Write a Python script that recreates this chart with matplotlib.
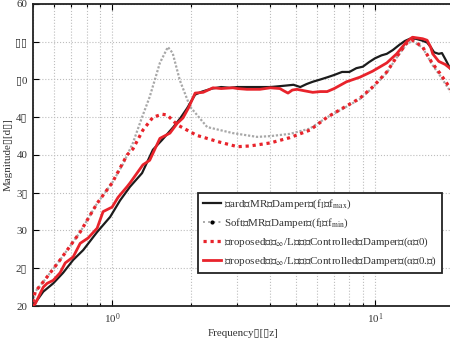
import numpy as np
import matplotlib
matplotlib.use("Agg")
import matplotlib.pyplot as plt
from matplotlib.lines import Line2D
from matplotlib.ticker import FixedLocator, NullFormatter

plt.rcParams['font.family'] = ['Liberation Serif', 'DejaVu Sans']
plt.rcParams['mathtext.fontset'] = 'stix'
plt.rcParams['font.size'] = 7.9

B = '\u25AF'  # missing-glyph box as it appears in the reference

# hard MR damper
f_hard = [0.5, 0.547, 0.597, 0.651, 0.711, 0.776, 0.877, 0.983, 1.073, 1.17, 1.30,
          1.43, 1.55, 1.71, 1.82, 1.93, 2.07, 2.2, 2.4, 2.6, 2.8, 3.0, 3.3, 3.6, 4.0,
          4.3, 4.6, 4.9, 5.2, 5.5, 5.8, 6.2, 6.6, 7.0, 7.5, 8.0, 8.5, 9.0, 9.5, 10.0,
          10.6, 11.1, 11.7, 12.4, 13.0, 13.6, 14.3, 15.0, 15.8, 16.3, 16.8, 17.5,
          18.0, 18.6, 19.3, 20.0]
m_hard = [20.0, 21.9, 23.0, 24.4, 26.1, 27.4, 29.8, 31.8, 34.0, 35.8, 37.6,
          40.7, 42.0, 43.7, 44.9, 46.2, 48.0, 48.4, 48.8, 49.0, 48.9, 49.0, 49.0, 49.0, 49.0,
          49.1, 49.2, 49.3, 49.0, 49.4, 49.7, 50.0, 50.3, 50.6, 51.0, 51.0, 51.5, 51.7, 52.3, 52.8,
          53.2, 53.4, 53.9, 54.6, 55.1, 55.4, 55.4, 55.2, 54.9, 54.3, 53.6, 53.4,
          53.5, 52.6, 51.5, 51.0]

# soft MR damper
f_soft = [0.5, 0.51, 0.55, 0.634, 0.756, 0.877, 1.0, 1.1, 1.2, 1.3, 1.39, 1.52, 1.63,
          1.7, 1.81, 1.98, 2.3, 2.88, 3.56, 4.0, 4.75, 5.66, 6.58, 7.8, 8.76, 9.8,
          11.1, 12.1, 13.2, 13.9, 15.2, 16.5, 17.7, 19.3, 20.0]
m_soft = [20.5, 21.9, 23.3, 26.1, 29.8, 33.6, 36.3, 38.8, 41.6, 45.0, 47.7, 52.2, 54.3,
          53.5, 49.9, 46.4, 43.7, 42.9, 42.4, 42.5, 42.8, 43.5, 45.0, 46.4, 47.4, 48.9,
          50.9, 52.9, 54.7, 55.1, 54.2, 52.0, 50.5, 48.5, 47.8]

# proposed, alpha = 0
f_a0 = [0.5, 0.51, 0.55, 0.634, 0.756, 0.877, 1.0, 1.14, 1.2, 1.31, 1.43, 1.55, 1.62,
        1.77, 2.1, 2.57, 3.0, 3.35, 4.0, 4.75, 5.66, 6.58, 7.8, 8.76, 9.8, 11.1,
        12.1, 13.2, 13.9, 15.2, 16.5, 17.7, 19.3, 20.0]
m_a0 = [20.5, 21.9, 23.3, 26.1, 29.8, 33.6, 36.3, 40.0, 40.8, 43.3, 45.0, 45.4, 45.3,
        44.0, 42.6, 41.7, 41.1, 41.2, 41.6, 42.3, 43.3, 45.0, 46.5, 47.5, 49.0, 51.0,
        53.0, 54.8, 55.2, 54.3, 52.2, 50.8, 48.9, 48.0]

# proposed, alpha = 0.5
f_a5 = [0.5, 0.51, 0.547, 0.566, 0.597, 0.634, 0.663, 0.711, 0.756, 0.81, 0.877, 0.924,
        1.0, 1.054, 1.14, 1.17, 1.31, 1.39, 1.46, 1.52, 1.66, 1.77, 1.86, 1.95, 2.07,
        2.22, 2.42, 2.6, 2.88, 3.0, 3.26, 3.65, 4.0, 4.35, 4.5, 4.67, 4.85, 5.05, 5.4,
        5.8, 6.2, 6.58, 7.0, 7.8, 8.76, 9.8, 11.1, 12.1, 13.2, 13.9, 15.2, 15.8, 16.3,
        16.6, 17.5, 18.5, 19.3, 20.0]
m_a5 = [20.0, 20.3, 22.5, 23.0, 23.4, 24.4, 25.7, 26.5, 28.3, 29.0, 30.3, 32.5,
        33.1, 34.4, 35.8, 36.3, 38.7, 39.3, 40.9, 42.2, 42.9, 44.2, 44.9, 46.2, 48.2,
        48.3, 48.9, 48.8, 48.9, 48.8, 48.7, 48.7, 48.9, 48.8, 48.5, 48.2, 48.6, 48.7, 48.5,
        48.3, 48.4, 48.4, 48.8, 49.7, 50.3, 51.1, 52.2, 53.4, 55.0, 55.6, 55.4, 55.2, 54.3,
        53.4, 52.4, 52.0, 51.5, 51.0]

yticks = [20, 25, 30, 35, 40, 45, 50, 55, 60]
ylabels = ['20', '2' + B, '30', '3' + B, '40', '4' + B, B + '0', B + B, '60']

labels = [
    B + 'ard' + B + 'MR' + B + 'Damper' + B + '(f$_{\\rm I}$' + B + 'f$_{\\rm max}$)',
    'Soft' + B + 'MR' + B + 'Damper' + B + '(f$_{\\rm I}$' + B + 'f$_{\\rm min}$)',
    B + 'roposed' + B + B + '$_\\infty$/L' + B + B + B + 'Controlled' + B + 'Damper' + B + '(\u03b1' + B + '0)',
    B + 'roposed' + B + B + '$_\\infty$/L' + B + B + B + 'Controlled' + B + 'Damper' + B + '(\u03b1' + B + '0.' + B + ')',
]

black = '#1c1c1c'
red = '#e8232b'
gray = '#a8a8a8'

fig = plt.figure(figsize=(4.5, 3.42), dpi=100)
ax = fig.add_axes([33 / 450, 36 / 342, 421 / 450, 302 / 342])
ax.set_xscale('log')

ax.plot(f_soft, m_soft, ls=(0, (1, 0.8)), color=gray, lw=1.6, zorder=2)
ax.plot(f_hard, m_hard, color=black, lw=1.6, zorder=3)
ax.plot(f_a0, m_a0, ls=(0, (1, 1.2)), color=red, lw=2.3, zorder=4)
ax.plot(f_a5, m_a5, color=red, lw=2.0, zorder=5)

ax.set_xlim(0.5, 20)
ax.set_ylim(20, 60)
ax.yaxis.set_major_locator(FixedLocator(yticks))
ax.set_yticklabels(ylabels)
ax.xaxis.set_minor_formatter(NullFormatter())

ax.grid(True, which='major', axis='both', ls=':', color='#bdbdbd', lw=0.8)
ax.grid(True, which='minor', axis='x', ls=':', color='#bdbdbd', lw=0.8)
ax.set_axisbelow(True)

ax.tick_params(which='both', direction='in', top=True, right=False, width=0.8, pad=4,
               labelcolor='#333333')
ax.tick_params(which='major', length=4)
ax.tick_params(which='minor', length=2)
for s in ['left', 'bottom', 'top']:
    ax.spines[s].set_linewidth(1.3)
    ax.spines[s].set_color('#222222')
ax.spines['right'].set_visible(False)

ax.set_xlabel('Frequency' + B + '[' + B + 'z]', labelpad=2, color='#333333')
ax.set_ylabel('Magnitude' + B + '[d' + B + ']', labelpad=2, color='#333333')

handles = [
    Line2D([], [], color=black, lw=1.6),
    Line2D([], [], color=gray, lw=1.4, ls=':', marker='.', mfc='k', mec='k', ms=4),
    Line2D([], [], color=red, lw=2.3, ls=(0, (1, 1.2))),
    Line2D([], [], color=red, lw=2.0),
]
leg = ax.legend(handles, labels, loc='lower right', bbox_to_anchor=(0.971, 0.109),
                borderaxespad=0, fancybox=False, framealpha=1, edgecolor='#222222',
                handlelength=1.6, handletextpad=0.3, labelspacing=0.5,
                borderpad=0.45, fontsize=7.9)
leg.get_frame().set_linewidth(1.3)
for t in leg.get_texts():
    t.set_color('#333333')

fig.savefig('out.png', dpi=100)
